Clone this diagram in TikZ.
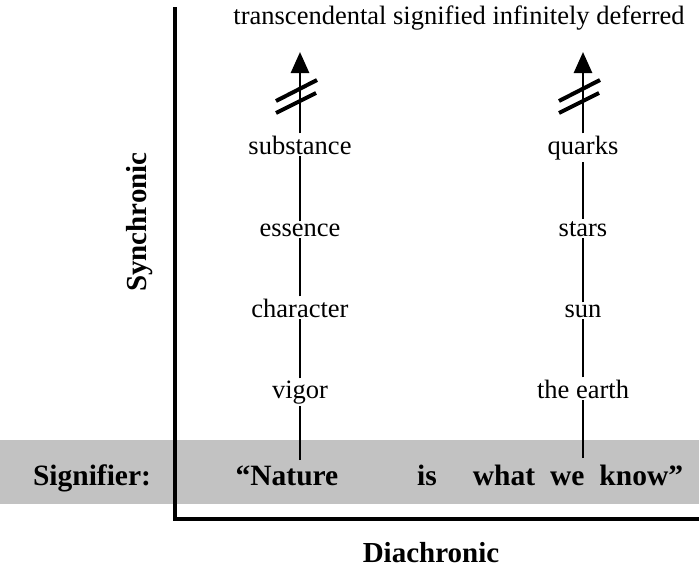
\documentclass[tikz,border=0pt]{standalone}
\usepackage{fontspec}
\setmainfont{Liberation Serif}
\usetikzlibrary{arrows.meta}
\begin{document}
\begin{tikzpicture}[x=1pt,y=-1pt,
  lbl/.style={font=\fontsize{26.5}{30}\selectfont, inner sep=2pt, anchor=base},
  sig/.style={font=\bfseries\fontsize{29.5}{34}\selectfont, inner sep=1.5pt, anchor=base},
  axislbl/.style={font=\bfseries\fontsize{29}{34}\selectfont},
  link/.style={line width=2.8pt},
  slash/.style={line width=4pt},
  axis/.style={line width=4.5pt},
  tip/.style={-{Triangle[length=21pt,width=18pt]}}]
\useasboundingbox (0,0) rectangle (699,568);
\fill[black!24] (0,440) rectangle (699,504);
% axes
\coordinate (atop) at (175,7);
\coordinate (aorig) at (175,519);
\coordinate (aright) at (699,519);
\draw[axis] (atop) -- (aorig) -- (aright);
\node[axislbl, rotate=90] (syn) at (140,222) {Synchronic};
\node[axislbl] (dia) at (431,553) {Diachronic};
\node[sig] (signifier) at (92,485) {Signifier:};
% top
\node[lbl] (top) at (459,24) {transcendental signified infinitely deferred};
% left column
\node[sig] (nature) at (287,485) {``Nature};
\node[lbl] (vigor) at (300,398) {vigor};
\node[lbl] (character) at (300,317) {character};
\node[lbl] (essence) at (300,236) {essence};
\node[lbl] (substance) at (300,154) {substance};
\coordinate (tipL) at (300,52);
% right column
\node[sig] (is) at (427,485) {is};
\node[sig] (know) at (578,485) {what\hspace{15pt}we\hspace{15pt}know''};
\node[lbl] (earth) at (583,398) {the earth};
\node[lbl] (sun) at (583,317) {sun};
\node[lbl] (stars) at (583,236) {stars};
\node[lbl] (quarks) at (583,154) {quarks};
\coordinate (tipR) at (583,52);
\coordinate (baseR) at (583,458);
\coordinate (baseL) at (300,460);
% connectors
\draw[link] (baseL) -- (vigor);
\draw[link] (vigor) -- (character);
\draw[link] (character) -- (essence);
\draw[link] (essence) -- (substance);
\draw[link,tip] (substance) -- (tipL);
\draw[link] (baseR) -- (earth);
\draw[link] (earth) -- (sun);
\draw[link] (sun) -- (stars);
\draw[link] (stars) -- (quarks);
\draw[link,tip] (quarks) -- (tipR);
% slashes
\foreach \cx in {300,583}{
  \draw[slash] (\cx-24,101) -- (\cx+17,80);
  \draw[slash] (\cx-24,113) -- (\cx+16,93);
}
\end{tikzpicture}
\end{document}
